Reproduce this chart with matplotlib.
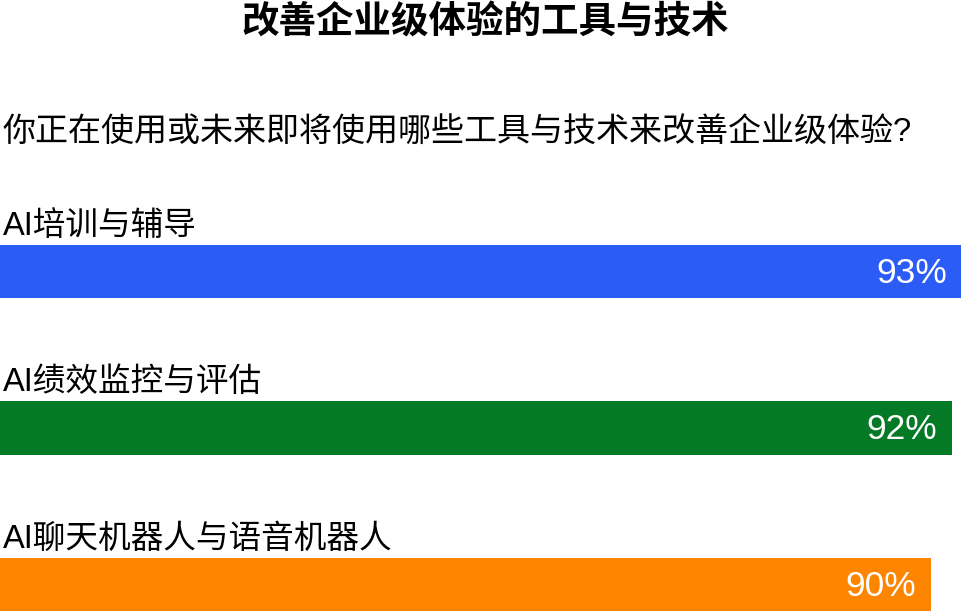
import matplotlib.pyplot as plt

# data
categories = ['AI培训与辅导', 'AI绩效监控与评估', 'AI聊天机器人与语音机器人']
values = [93, 92, 90]
colours = ['#2B5CF6', '#047A27', '#FD8500']
title = '改善企业级体验的工具与技术'
question = '你正在使用或未来即将使用哪些工具与技术来改善企业级体验?'

fonts = ['Liberation Sans', 'Noto Sans CJK SC']

fig = plt.figure(figsize=(9.62, 6.12), dpi=100)
ax = fig.add_axes([0, 0, 1, 1])

bar_h = 0.339
pos = list(range(len(categories)))
ax.barh(pos, values, height=bar_h, color=colours)

for i, (cat, val) in enumerate(zip(categories, values)):
    ax.text(0.25, i - bar_h / 2 - 0.022, cat, ha='left', va='bottom',
            fontsize=23.5, family=fonts, color='black')
    ax.text(val - 1.4, i + 0.01, '{}%'.format(val), ha='right', va='center',
            fontsize=25.5, family=fonts, color='white')

ax.set_xlim(0, 93)
ax.set_ylim(2.176, -1.735)
ax.axis('off')

fig.text(0.504, 0.961, title, ha='center', va='center', fontsize=27,
         fontweight='bold', family=fonts)
fig.text(0.003, 0.784, question, ha='left', va='center', fontsize=23.8,
         family=fonts)

fig.savefig('out.png', dpi=100, facecolor='white')
